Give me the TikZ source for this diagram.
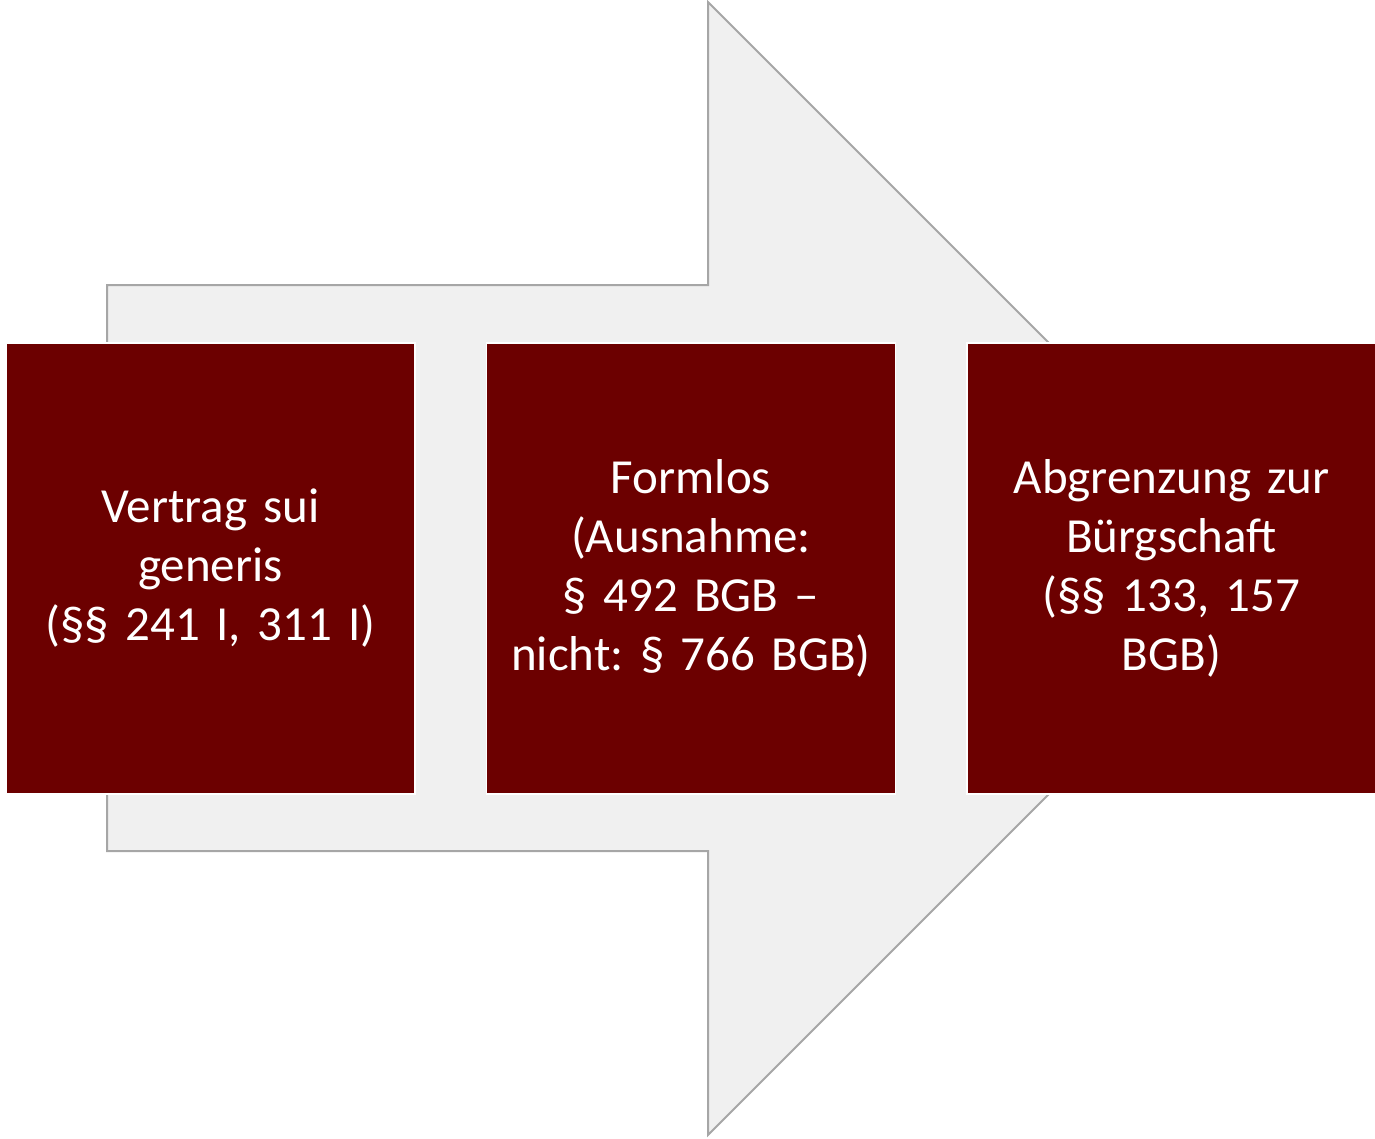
\documentclass[tikz,border=0pt]{standalone}
\usepackage{fontspec}
\setmainfont{Carlito}
\frenchspacing
\definecolor{boxred}{HTML}{6C0000}
\definecolor{arrowfill}{HTML}{F0F0F0}
\definecolor{arrowline}{HTML}{A6A6A6}
\tikzset{
  stepbox/.style={draw=white, line width=1.5pt, fill=boxred, text=white,
    minimum width=409pt, minimum height=451pt, inner sep=0pt,
    align=center, text width=400pt,
    font=\fontsize{49}{59}\selectfont},
  bigarrow/.style={fill=arrowfill, draw=arrowline, line width=2pt}
}
\begin{document}
\begin{tikzpicture}[x=1pt,y=-1pt]
\useasboundingbox (0,0) rectangle (1375,1138);
\draw[bigarrow] (107,285) -- (708,285) -- (708,2) -- (1274.5,568.5) -- (708,1135) -- (708,851) -- (107,851) -- cycle;
\node[stepbox] (a) at (210.5,568.5) {Vertrag sui\\generis\\(§§ 241 I, 311 I)};
\node[stepbox] (b) at (691,568.5) {Formlos\\(Ausnahme:\\§ 492 BGB --\\nicht: § 766 BGB)};
\node[stepbox] (c) at (1171.5,568.5) {Abgrenzung zur\\Bürgschaft\\(§§ 133, 157\\BGB)};
\end{tikzpicture}
\end{document}
